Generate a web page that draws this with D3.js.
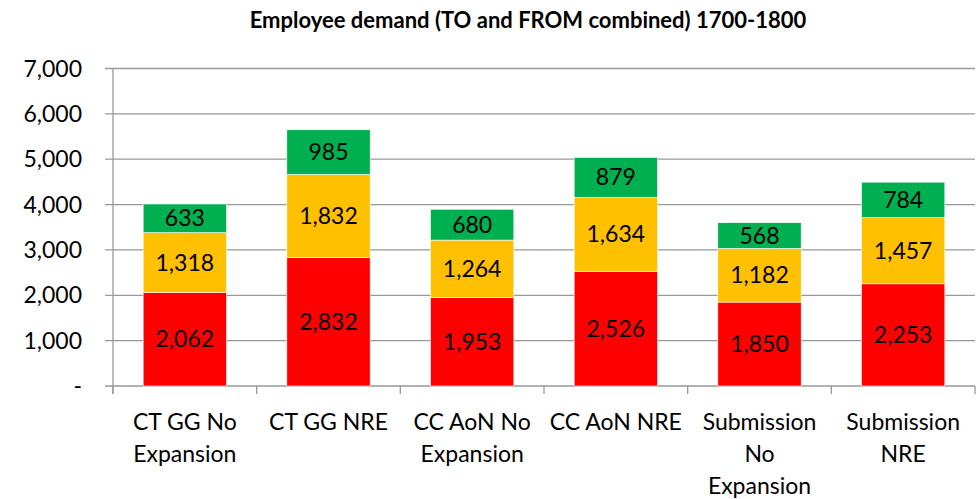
<!DOCTYPE html>
<html lang="en">
<head>
<meta charset="UTF-8">
<title>Employee demand</title>
<script src="https://d3js.org/d3.v7.min.js"></script>
<style>
  body { margin: 0; background: #fff; }
  text { font-family: Lato, "Open Sans", sans-serif; fill: #000; }
</style>
</head>
<body>
<svg width="980" height="499"></svg>
<script>
var categories = ["CT GG No Expansion", "CT GG NRE", "CC AoN No Expansion", "CC AoN NRE", "Submission No Expansion", "Submission NRE"];
var seriesNames = ["red", "amber", "green"];
var redValues = [2062, 2832, 1953, 2526, 1850, 2253];
var amberValues = [1318, 1832, 1264, 1634, 1182, 1457];
var greenValues = [633, 985, 680, 879, 568, 784];
var yTicks = [0, 1000, 2000, 3000, 4000, 5000, 6000, 7000];
var colors = ["#FF0000", "#FFC000", "#00B050"];

var svg = d3.select("svg"),
    plotLeft = 113, plotRight = 975, plotTop = 68.5, plotBottom = 386;

var rows = categories.map(function(c, i) {
  return { cat: c, red: redValues[i], amber: amberValues[i], green: greenValues[i] };
});
var stack = d3.stack().keys(seriesNames)(rows);

var x = d3.scaleBand().domain(categories).range([plotLeft, plotRight]).paddingInner(0.42).paddingOuter(0.21);
var xTick = d3.scaleBand().domain(categories).range([plotLeft, plotRight]);
var y = d3.scaleLinear().domain([0, 7000]).range([plotBottom, plotTop]);

svg.append("text")
  .attr("x", 528).attr("y", 28)
  .attr("text-anchor", "middle")
  .style("font-size", "22px").style("font-weight", "bold")
  .text("Employee demand (TO and FROM combined) 1700-1800");

// gridlines
svg.append("g").selectAll("line").data(yTicks).enter().append("line")
  .attr("x1", plotLeft - 8).attr("x2", plotRight)
  .attr("y1", function(d) { return y(d); }).attr("y2", function(d) { return y(d); })
  .attr("stroke", "#999").attr("stroke-width", 1.3);

// y axis
svg.append("line").attr("x1", plotLeft).attr("x2", plotLeft).attr("y1", plotTop).attr("y2", plotBottom + 8)
  .attr("stroke", "#999").attr("stroke-width", 1.3);
svg.append("g").selectAll("text").data(yTicks).enter().append("text")
  .attr("x", 82).attr("y", function(d) { return y(d) + 8; })
  .attr("text-anchor", "end")
  .style("font-size", "23px")
  .text(function(d) { return d === 0 ? "-" : d3.format(",")(d); });

// category ticks
svg.append("g").selectAll("line").data(categories.concat(["end"])).enter().append("line")
  .attr("x1", function(d, i) { return plotLeft + i * xTick.bandwidth(); })
  .attr("x2", function(d, i) { return plotLeft + i * xTick.bandwidth(); })
  .attr("y1", plotBottom).attr("y2", plotBottom + 8)
  .attr("stroke", "#999").attr("stroke-width", 1.3);

// bars
var layer = svg.append("g").selectAll("g").data(stack).enter().append("g")
  .attr("fill", function(d, i) { return colors[i]; });
layer.selectAll("rect").data(function(d) { return d; }).enter().append("rect")
  .attr("x", function(d) { return x(d.data.cat); })
  .attr("width", x.bandwidth())
  .attr("y", function(d) { return y(d[1]); })
  .attr("height", function(d) { return y(d[0]) - y(d[1]); })
  .attr("stroke", "#fff").attr("stroke-width", 0.6);

svg.append("g").selectAll("g").data(stack).enter().append("g")
  .selectAll("text").data(function(d) { return d; }).enter().append("text")
  .attr("x", function(d) { return x(d.data.cat) + x.bandwidth() / 2; })
  .attr("y", function(d) { return (y(d[0]) + y(d[1])) / 2 + 8; })
  .attr("text-anchor", "middle")
  .style("font-size", "23px")
  .text(function(d) { return d3.format(",")(d[1] - d[0]); });

// category labels, wrapped
var labels = svg.append("g").selectAll("text").data(categories).enter().append("text")
  .attr("x", function(d) { return xTick(d) + xTick.bandwidth() / 2; })
  .attr("y", 430)
  .attr("text-anchor", "middle")
  .style("font-size", "23px");
labels.each(function(d) {
  var t = d3.select(this), words = d.split(" "), line = [];
  var tspan = t.append("tspan").attr("x", t.attr("x")).attr("dy", 0);
  words.forEach(function(w) {
    line.push(w);
    tspan.text(line.join(" "));
    if (tspan.node().getComputedTextLength() > 138 && line.length > 1) {
      line.pop();
      tspan.text(line.join(" "));
      line = [w];
      tspan = t.append("tspan").attr("x", t.attr("x")).attr("dy", 32).text(w);
    }
  });
});
</script>
</body>
</html>
